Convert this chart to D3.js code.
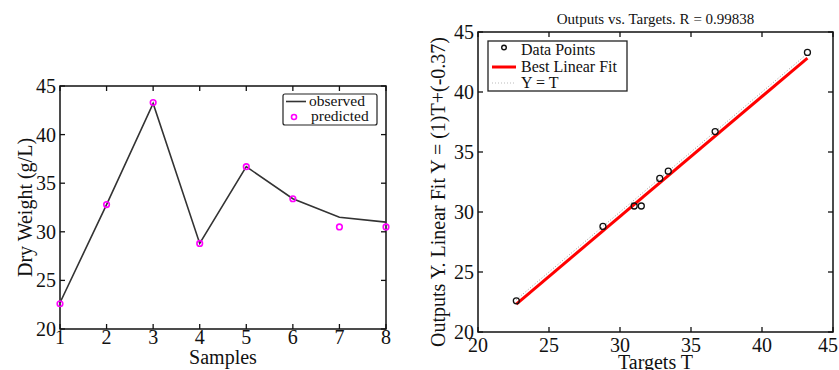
<!DOCTYPE html>
<html><head><meta charset="utf-8">
<script src="https://cdn.jsdelivr.net/npm/d3@7"></script>
<style>
html,body{margin:0;padding:0;background:#fff;}
svg text{font-family:"Liberation Serif","DejaVu Serif",serif;fill:#111;}
</style></head>
<body><svg id="c" width="839" height="370"></svg>
<script>
const samples = [1,2,3,4,5,6,7,8];
const observed = [22.7,32.8,43.2,28.8,36.7,33.4,31.5,31.0];
const predicted = [22.6,32.8,43.3,28.8,36.7,33.4,30.5,30.5];
const yTicksLeft = [20,25,30,35,40,45];
const ticksRight = [20,25,30,35,40,45];
const fitSlope = 1, fitIntercept = -0.37;
const titleRight = "Outputs vs. Targets. R = 0.99838";

const svg = d3.select("#c");

function boxAxes(g, x, y, xt, yt, tick) {
  const [x0,x1] = x.range(), [y0,y1] = y.range();
  g.append("rect").attr("x",x0).attr("y",y1).attr("width",x1-x0).attr("height",y0-y1)
    .attr("fill","none").attr("stroke","#111").attr("stroke-width",1.5);
  xt.forEach(v=>{
    g.append("line").attr("x1",x(v)).attr("x2",x(v)).attr("y1",y0).attr("y2",y0-tick).attr("stroke","#111").attr("stroke-width",1.3);
    g.append("line").attr("x1",x(v)).attr("x2",x(v)).attr("y1",y1).attr("y2",y1+tick).attr("stroke","#111").attr("stroke-width",1.3);
  });
  yt.forEach(v=>{
    g.append("line").attr("y1",y(v)).attr("y2",y(v)).attr("x1",x0).attr("x2",x0+tick).attr("stroke","#111").attr("stroke-width",1.3);
    g.append("line").attr("y1",y(v)).attr("y2",y(v)).attr("x1",x1).attr("x2",x1-tick).attr("stroke","#111").attr("stroke-width",1.3);
  });
}

// ---------- Left chart ----------
{
  const g = svg.append("g");
  const x = d3.scaleLinear().domain([1,8]).range([60,386]);
  const y = d3.scaleLinear().domain([20,45]).range([329,86]);
  boxAxes(g, x, y, samples, yTicksLeft, 5);
  g.selectAll(".xl").data(samples).join("text").attr("x",d=>x(d)).attr("y",344)
    .attr("text-anchor","middle").attr("font-size",20).text(d=>d);
  g.selectAll(".yl").data(yTicksLeft).join("text").attr("x",56).attr("y",d=>y(d)+7)
    .attr("text-anchor","end").attr("font-size",20).text(d=>d);
  g.append("text").attr("x",(60+386)/2).attr("y",364).attr("text-anchor","middle").attr("font-size",20).text("Samples");
  g.append("text").attr("transform",`translate(32,${(86+329)/2}) rotate(-90)`).attr("text-anchor","middle")
    .attr("font-size",20).text("Dry Weight (g/L)");
  const line = d3.line().x((d,i)=>x(samples[i])).y(d=>y(d));
  g.append("path").datum(observed).attr("d",line).attr("fill","none").attr("stroke","#333").attr("stroke-width",1.6);
  g.selectAll(".pc").data(predicted).join("circle").attr("cx",(d,i)=>x(samples[i])).attr("cy",d=>y(d))
    .attr("r",2.8).attr("fill","none").attr("stroke","#f0f").attr("stroke-width",1.6);
  // legend
  const lg = g.append("g");
  lg.append("rect").attr("x",283).attr("y",94).attr("width",94).attr("height",31).attr("rx",2)
    .attr("fill","#fff").attr("stroke","#222").attr("stroke-width",1.2);
  lg.append("line").attr("x1",286).attr("x2",306).attr("y1",101.5).attr("y2",101.5).attr("stroke","#333").attr("stroke-width",1.6);
  lg.append("circle").attr("cx",294).attr("cy",117).attr("r",2.5).attr("fill","none").attr("stroke","#f0f").attr("stroke-width",1.6);
  lg.append("text").attr("x",309).attr("y",105.5).attr("font-size",15.5).text("observed");
  lg.append("text").attr("x",311).attr("y",121).attr("font-size",15.5).text("predicted");
}

// ---------- Right chart ----------
{
  const g = svg.append("g");
  const x = d3.scaleLinear().domain([20,45]).range([478,833]);
  const y = d3.scaleLinear().domain([20,45]).range([332,32]);
  boxAxes(g, x, y, ticksRight, ticksRight, 5);
  g.selectAll(".xl").data(ticksRight).join("text").attr("x",d=>Math.min(x(d),828)).attr("y",352)
    .attr("text-anchor","middle").attr("font-size",20).text(d=>d);
  g.selectAll(".yl").data(ticksRight).join("text").attr("x",474).attr("y",d=>y(d)+7)
    .attr("text-anchor","end").attr("font-size",20).text(d=>d);
  g.append("text").attr("x",(478+833)/2).attr("y",369).attr("text-anchor","middle").attr("font-size",20).text("Targets T");
  g.append("text").attr("transform",`translate(445,192) rotate(-90)`).attr("text-anchor","middle")
    .attr("font-size",20).text("Outputs Y. Linear Fit Y = (1)T+(-0.37)");
  g.append("text").attr("x",(478+833)/2).attr("y",24).attr("text-anchor","middle").attr("font-size",15).text(titleRight);
  const ext = d3.extent(observed);
  // Y = T
  g.append("line").attr("x1",x(ext[0])).attr("x2",x(ext[1])).attr("y1",y(ext[0])).attr("y2",y(ext[1]))
    .attr("stroke","#999").attr("stroke-width",1).attr("stroke-dasharray","1,2");
  // best fit
  g.append("line").attr("x1",x(ext[0])).attr("x2",x(ext[1]))
    .attr("y1",y(fitSlope*ext[0]+fitIntercept)).attr("y2",y(fitSlope*ext[1]+fitIntercept))
    .attr("stroke","#f00").attr("stroke-width",3);
  g.selectAll(".dp").data(observed).join("circle").attr("cx",d=>x(d)).attr("cy",(d,i)=>y(predicted[i]))
    .attr("r",3).attr("fill","none").attr("stroke","#111").attr("stroke-width",1.3);
  // legend
  const lg = g.append("g");
  lg.append("rect").attr("x",488).attr("y",41).attr("width",139).attr("height",50)
    .attr("fill","#fff").attr("stroke","#222").attr("stroke-width",1.3);
  lg.append("circle").attr("cx",504).attr("cy",47.5).attr("r",2.3).attr("fill","none").attr("stroke","#111").attr("stroke-width",1.4);
  lg.append("line").attr("x1",492).attr("x2",516).attr("y1",67).attr("y2",67).attr("stroke","#f00").attr("stroke-width",3);
  lg.append("line").attr("x1",492).attr("x2",516).attr("y1",83).attr("y2",83).attr("stroke","#bbb").attr("stroke-width",1).attr("stroke-dasharray","1,2");
  lg.append("text").attr("x",521).attr("y",55).attr("font-size",16).text("Data Points");
  lg.append("text").attr("x",521).attr("y",72).attr("font-size",16).text("Best Linear Fit");
  lg.append("text").attr("x",521).attr("y",88).attr("font-size",16).text("Y = T");
}
</script></body></html>
